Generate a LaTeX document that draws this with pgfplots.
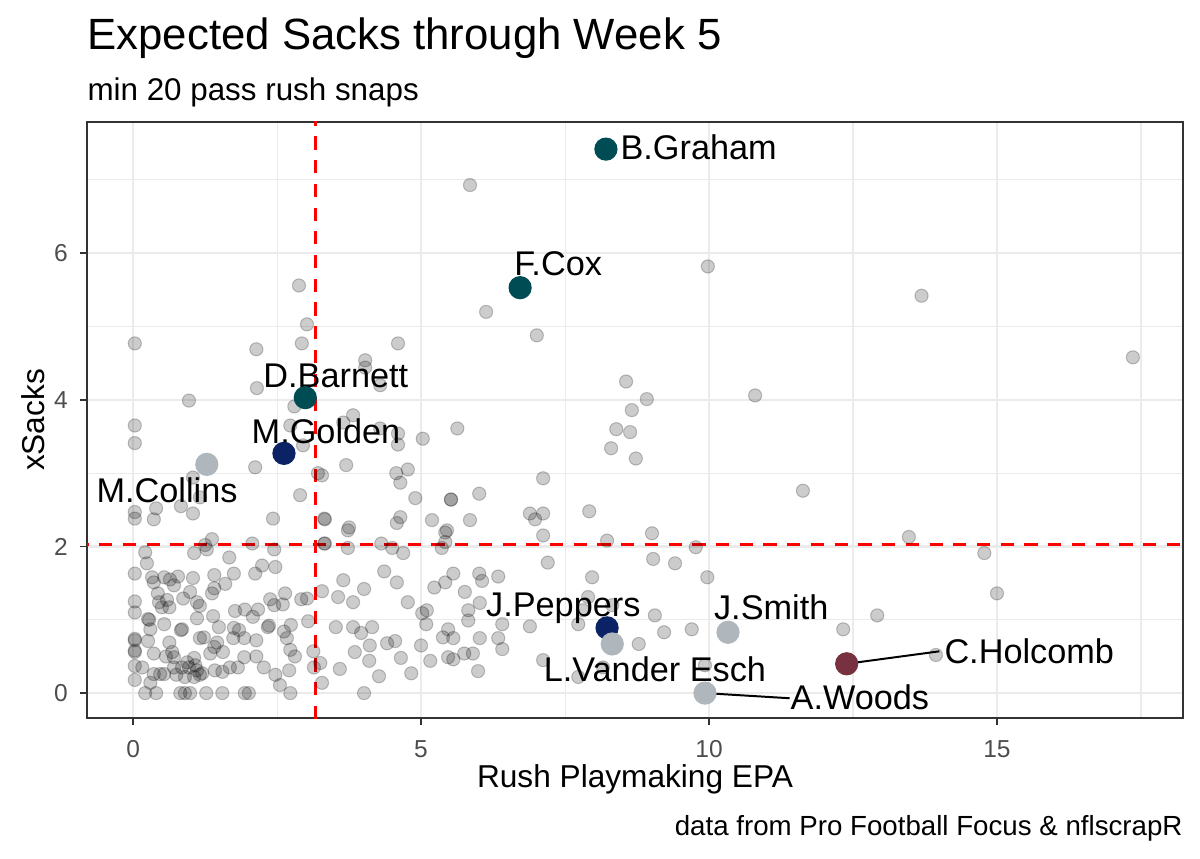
\documentclass[border=0pt]{standalone}
\usepackage{fontspec}
\setmainfont{Liberation Sans}
\usepackage{pgfplots}
\pgfplotsset{compat=1.18}
\definecolor{gridc}{RGB}{235,235,235}
\definecolor{framec}{RGB}{51,51,51}
\definecolor{tickc}{RGB}{77,77,77}
\definecolor{eagles}{HTML}{004C54}
\definecolor{giants}{HTML}{0B2265}
\definecolor{cowboys}{HTML}{B0B7BC}
\definecolor{redskins}{HTML}{773141}
\newcommand{\lab}{\fontsize{13}{15}\selectfont}

\begin{document}
\begin{tikzpicture}
\begin{axis}[
    name=ax,
    scale only axis,
    width=14.613cm, height=7.947cm,
    xmin=-0.80, xmax=18.23, ymin=-0.34, ymax=7.79,
    xtick={0,5,10,15}, ytick={0,2,4,6},
    minor xtick={2.5,7.5,12.5,17.5}, minor ytick={1,3,5,7},
    grid=both,
    major grid style={gridc, line width=0.8pt},
    minor grid style={gridc, line width=0.4pt},
    axis line style={framec, line width=0.6pt},
    tick align=outside,
    major tick length=0.09cm, minor tick length=0pt,
    every tick/.style={framec, line width=0.6pt},
    xtick pos=bottom, ytick pos=left,
    ticklabel style={font=\fontsize{9.3}{10}\selectfont, text=tickc},
    /pgf/number format/assume math mode=true,
    xticklabel style={anchor=base, yshift=-0.44cm, inner sep=0pt},
    yticklabel style={anchor=east, xshift=-0.16cm, inner sep=0pt},
]

% all pass rushers (grey)
\addplot[only marks, mark=*, mark size=2.5pt,
    mark options={fill=black, fill opacity=0.2, draw=black, draw opacity=0.22, line width=0.4pt}]
coordinates {
(1.37,2.10)(1.25,2.02)(1.28,1.96)(1.06,1.91)(2.07,2.04)(2.45,1.96)(1.67,1.85)(0.21,1.92)
(0.24,1.77)(0.03,1.63)(0.33,1.58)(0.36,1.51)(0.54,1.58)(0.64,1.55)(0.78,1.59)(0.71,1.47)
(1.04,1.57)(1.41,1.61)(1.75,1.63)(2.24,1.74)(2.47,1.72)(2.12,1.63)(1.60,1.49)(1.41,1.43)
(1.37,1.36)(0.43,1.36)(0.99,1.38)(0.87,1.29)(0.03,1.25)(0.03,1.10)(0.45,1.24)(0.59,1.27)
(0.50,1.17)(0.63,1.17)(1.11,1.24)(1.16,1.19)(1.77,1.12)(1.94,1.14)(2.17,1.14)(2.08,1.04)
(2.38,1.28)(2.45,1.20)(2.64,1.36)(2.60,1.21)(2.92,1.28)(3.02,1.29)(0.26,1.01)(0.28,1.00)
(0.30,0.87)(0.54,0.94)(0.83,0.86)(0.85,0.87)(1.11,1.02)(1.39,1.05)(1.49,0.90)(1.75,0.89)
(1.84,0.86)(1.74,0.75)(1.93,0.75)(2.34,0.90)(2.36,0.92)(2.74,0.93)(2.62,0.84)(2.67,0.75)
(3.04,0.98)(0.03,0.74)(0.03,0.72)(0.03,0.56)(0.03,0.58)(0.26,0.71)(0.63,0.69)(1.16,0.75)
(1.23,0.76)(1.46,0.69)(1.41,0.63)(1.34,0.54)(1.56,0.56)(0.68,0.56)(0.71,0.49)(0.57,0.50)
(0.36,0.54)(1.06,0.48)(0.94,0.42)(1.08,0.38)(1.93,0.49)(2.14,0.72)(2.14,0.50)(2.73,0.59)
(2.81,0.50)(3.13,0.57)(3.25,0.41)(3.14,0.35)(0.03,0.37)(0.16,0.35)(0.71,0.35)(0.85,0.35)
(0.97,0.35)(1.11,0.31)(1.20,0.27)(0.36,0.26)(0.47,0.26)(0.54,0.26)(0.75,0.25)(0.90,0.22)
(1.06,0.22)(1.16,0.25)(1.42,0.31)(1.55,0.29)(1.68,0.35)(1.82,0.35)(2.27,0.35)(2.47,0.25)
(2.55,0.11)(2.71,0.31)(0.03,0.18)(0.30,0.14)(0.21,0)(0.40,0)(0.82,0)(0.90,0)(0.99,0)
(1.27,0)(1.55,0)(1.94,0)(2.01,0)(2.73,0)(3.32,2.04)(3.28,1.39)(3.28,0.14)
(3.73,2.22)(5.42,2.19)(7.12,2.15)(3.33,2.04)(3.73,1.98)(4.31,2.04)(4.50,1.98)(4.69,1.91)
(5.36,1.98)(5.42,2.06)(7.20,1.78)(3.65,1.54)(4.36,1.66)(4.58,1.51)(3.56,1.31)(3.82,1.24)
(4.01,1.42)(4.77,1.24)(5.23,1.44)(5.42,1.51)(5.56,1.63)(5.76,1.38)(6.01,1.63)(6.06,1.53)
(6.34,1.59)(5.02,1.09)(5.10,1.13)(5.09,0.94)(5.82,1.13)(5.82,0.99)(6.02,1.23)(3.52,0.90)
(3.82,0.90)(3.96,0.82)(4.15,0.90)(6.41,0.94)(6.89,0.91)(4.11,0.65)(4.41,0.68)(4.55,0.71)
(5.00,0.65)(5.38,0.76)(5.47,0.87)(5.56,0.75)(6.02,0.75)(6.34,0.75)(6.41,0.60)(3.85,0.56)
(4.10,0.44)(4.65,0.48)(5.16,0.44)(5.47,0.49)(5.56,0.46)(5.75,0.54)(5.90,0.54)(7.12,0.45)
(3.59,0.33)(4.27,0.23)(4.83,0.27)(5.99,0.30)(4.01,0)
(8.23,2.08)(9.01,2.18)(9.77,1.99)(9.03,1.83)(9.41,1.77)(7.97,1.58)(9.97,1.58)(7.90,1.31)
(7.81,1.13)(8.32,1.20)(9.06,1.06)(7.73,0.94)(9.22,0.83)(9.70,0.87)(8.78,0.67)(8.16,0.35)
(7.73,0.22)(9.93,0.38)
(3.02,5.03)(2.93,4.77)(0.03,4.77)(2.14,4.69)(2.15,4.16)(0.97,3.99)(2.80,3.91)(0.03,3.65)
(0.03,3.41)(2.73,3.65)(2.95,3.38)(2.12,3.08)(3.21,3.00)(1.04,2.94)(1.16,2.67)(0.83,2.55)
(1.04,2.45)(0.40,2.52)(0.36,2.37)(0.03,2.47)(0.03,2.38)(2.90,2.70)(2.43,2.38)(3.32,2.38)
(2.88,5.56)
(6.13,5.20)(7.01,4.88)(4.60,4.77)(4.03,4.54)(4.03,4.44)(4.29,4.20)(3.82,3.79)(3.65,3.69)
(4.29,3.61)(4.60,3.54)(4.60,3.39)(5.03,3.47)(5.63,3.61)(3.70,3.11)(3.28,2.97)(4.57,3.00)
(4.64,2.87)(4.77,3.05)(7.12,2.93)(4.90,2.66)(5.52,2.64)(5.52,2.64)(6.01,2.72)(3.33,2.37)
(3.75,2.26)(4.64,2.40)(4.58,2.32)(5.19,2.36)(5.45,2.22)(5.85,2.36)(6.89,2.45)(7.12,2.45)
(6.98,2.37)
(8.56,4.25)(8.92,4.01)(8.66,3.86)(8.39,3.60)(8.63,3.56)(8.30,3.34)(8.73,3.20)(10.80,4.06)
(7.92,2.48)(5.85,6.93)(9.98,5.82)
(13.69,5.42)(17.36,4.58)(11.63,2.76)(13.47,2.13)(14.78,1.91)(15.0,1.36)(12.92,1.06)
(12.33,0.87)(13.94,0.52)
};

% reference lines
\addplot[red, line width=1.1pt, dash pattern=on 5pt off 4pt] coordinates {(3.165,-1) (3.165,9)};
\addplot[red, line width=1.1pt, dash pattern=on 5pt off 4pt] coordinates {(-1,2.03) (19,2.03)};

% label segments
\draw[black, line width=0.75pt] (axis cs:9.93,0) -- (axis cs:11.4,-0.07);
\draw[black, line width=0.75pt] (axis cs:12.39,0.40) -- (axis cs:14.0,0.57);

% highlighted players
\addplot[eagles, only marks, mark=*, mark size=4.2pt, mark options={draw=eagles, fill=eagles}]
  coordinates {(8.21,7.42) (6.72,5.53) (2.99,4.03)};
\addplot[giants, only marks, mark=*, mark size=4.2pt, mark options={draw=giants, fill=giants}]
  coordinates {(2.62,3.27) (8.23,0.89)};
\addplot[cowboys, only marks, mark=*, mark size=4.2pt, mark options={draw=cowboys, fill=cowboys}]
  coordinates {(1.28,3.12) (8.32,0.67) (10.33,0.83) (9.93,0)};
\addplot[redskins, only marks, mark=*, mark size=4.2pt, mark options={draw=redskins, fill=redskins}]
  coordinates {(12.39,0.40)};

\node[anchor=base west, inner sep=0pt, font=\lab] at (axis cs:8.455,7.28) {B.Graham};
\node[anchor=base, inner sep=0pt, font=\lab] at (axis cs:7.38,5.69) {F.Cox};
\node[anchor=base, inner sep=0pt, font=\lab] at (axis cs:3.52,4.17) {D.Barnett};
\node[anchor=base, inner sep=0pt, font=\lab] at (axis cs:3.35,3.40) {M.Golden};
\node[anchor=base, inner sep=0pt, font=\lab] at (axis cs:0.59,2.60) {M.Collins};
\node[anchor=base, inner sep=0pt, font=\lab] at (axis cs:7.47,1.05) {J.Peppers};
\node[anchor=base, inner sep=0pt, font=\lab] at (axis cs:11.08,1.01) {J.Smith};
\node[anchor=base, inner sep=0pt, font=\lab] at (axis cs:9.06,0.16) {L.Vander Esch};
\node[anchor=base, inner sep=0pt, font=\lab] at (axis cs:12.62,-0.22) {A.Woods};
\node[anchor=base, inner sep=0pt, font=\lab] at (axis cs:15.56,0.41) {C.Holcomb};
\end{axis}

\node[anchor=base west, inner sep=0pt, font=\fontsize{16.6}{19}\selectfont]
  at ([yshift=0.96cm]ax.north west) {Expected Sacks through Week 5};
\node[anchor=base west, inner sep=0pt, font=\fontsize{11.9}{14}\selectfont]
  at ([yshift=0.28cm]ax.north west) {min 20 pass rush snaps};
\node[anchor=base, inner sep=0pt, font=\fontsize{12}{14}\selectfont]
  at ([yshift=-0.92cm]ax.south) {Rush Playmaking EPA};
\node[rotate=90, anchor=center, inner sep=0pt, font=\fontsize{12}{14}\selectfont]
  at ([xshift=-0.72cm]ax.west) {xSacks};
\node[anchor=base east, inner sep=0pt, font=\fontsize{10.5}{12}\selectfont]
  at ([yshift=-1.56cm]ax.south east) {data from Pro Football Focus \& nflscrapR};

\pgfresetboundingbox
\path[use as bounding box] ([shift={(-1.16cm,-1.8667cm)}]ax.south west)
  rectangle ([shift={(0.2267cm,1.6267cm)}]ax.north east);
\end{tikzpicture}
\end{document}
